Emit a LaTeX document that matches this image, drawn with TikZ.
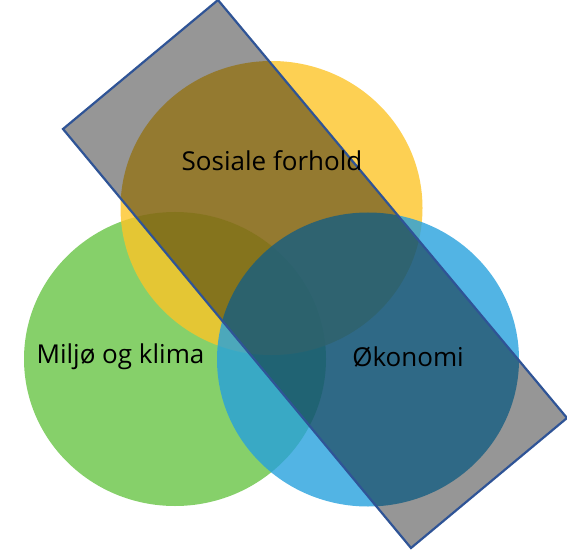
\documentclass[tikz,border=0pt]{standalone}
\usepackage{fontspec}
\setmainfont{Open Sans}
\definecolor{gulc}{RGB}{252,196,40}
\definecolor{gronc}{RGB}{104,196,69}
\definecolor{blac}{RGB}{39,161,221}
\definecolor{kantc}{RGB}{47,84,150}
\tikzset{
  sirkel/.style={fill=#1,fill opacity=0.8},
  etikett/.style={font=\fontsize{26}{31}\selectfont,text=black}
}
\begin{document}
\begin{tikzpicture}[x=1pt,y=-1pt]
  \useasboundingbox (0,0) rectangle (567,553);
  \fill[sirkel=gronc] (175,359) ellipse (151 and 147);
  \fill[sirkel=gulc] (271.5,208) ellipse (151 and 147);
  \fill[sirkel=blac] (368,359.5) ellipse (151 and 147);
  \coordinate (r1) at (218,0);
  \coordinate (r2) at (567,418);
  \coordinate (r3) at (411,548);
  \coordinate (r4) at (63,129);
  \begin{scope}[blend mode=multiply]
    \fill[black!41] (r1) -- (r2) -- (r3) -- (r4) -- cycle;
  \end{scope}
  \draw[kantc,line width=2.2pt,line join=miter] (r1) -- (r2) -- (r3) -- (r4) -- cycle;
  \node[etikett] (sosial) at (272,161) {Sosiale forhold};
  \node[etikett] (miljo) at (120.5,357) {Miljø og klima};
  \node[etikett] (okonomi) at (408,357) {Økonomi};
\end{tikzpicture}
\end{document}
